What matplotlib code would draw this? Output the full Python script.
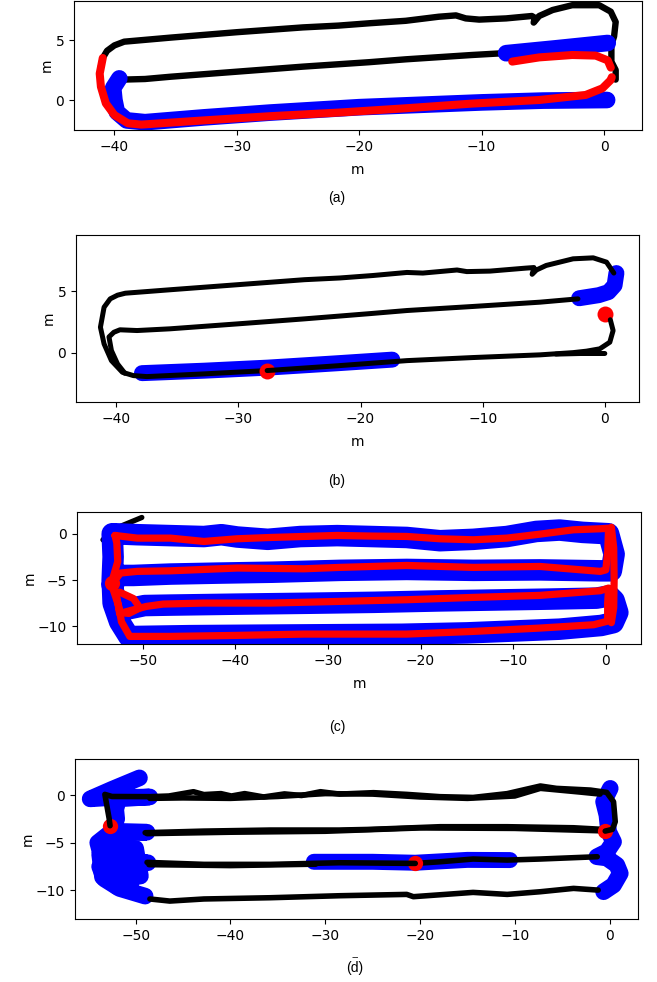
import matplotlib
matplotlib.use("Agg")
import matplotlib.pyplot as plt

# ---------------- panel (a) ----------------
a_black_top_x = [0.95, 0.95, 0.6, 0.6, 0.82, 0.95, 0.55, -0.4, -2.6, -4.2, -5.3, -5.75, -5.65, -5.9, -8.0,
                 -10.2, -11.3, -12.1, -13.5, -16.2, -19.1, -21.7, -24.6, -30.0, -35.4, -39.2, -40.0, -40.6,
                 -40.95, -41.1]
a_black_top_y = [1.7, 2.5, 3.2, 4.6, 5.3, 6.5, 7.36, 7.9, 7.9, 7.5, 7.0, 6.45, 6.85, 7.0, 6.8,
                 6.7, 6.8, 7.05, 6.94, 6.6, 6.4, 6.2, 6.05, 5.65, 5.2, 4.86, 4.55, 4.1,
                 3.5, 2.8]
a_black_mid_x = [-39.3, -37.5, -35.4, -30.0, -24.6, -19.2, -16.2, -10.8, -8.2, -4.0, 0.2]
a_black_mid_y = [1.7, 1.75, 1.94, 2.36, 2.78, 3.15, 3.39, 3.75, 3.9, 4.2, 4.5]
a_blue_low_x = [-39.6, -40.1, -40.0, -39.8, -39.0, -37.5, -32.7, -27.3, -20.0, -10.0, -5.0, 0.25]
a_blue_low_y = [1.8, 1.0, 0.0, -1.0, -1.7, -1.85, -1.45, -1.05, -0.6, -0.2, -0.05, 0.0]
a_blue_top_x = [-8.0, -4.0, 0.3]
a_blue_top_y = [3.9, 4.3, 4.75]
a_red_low_x = [-40.95, -41.2, -41.1, -40.7, -40.0, -38.9, -37.8, -32.7, -27.3, -21.7, -16.2, -10.8, -5.3,
               -1.5, -0.14, 0.55, 0.63]
a_red_low_y = [3.5, 2.2, 1.1, -0.28, -1.25, -1.94, -2.05, -1.7, -1.35, -1.05, -0.69, -0.3, 0.0,
               0.42, 0.97, 1.67, 1.9]
a_red_up_x = [0.55, 0.3, -0.68, -2.6, -5.3, -7.5]
a_red_up_y = [2.7, 3.3, 3.7, 3.75, 3.55, 3.2]

# ---------------- panel (b) ----------------
b_black_right_x = [0.45, 0.68, 0.41, -0.41, -1.5, -2.6, -5.3, -10.8, -16.2, -21.9, -27.65]
b_black_right_y = [2.7, 1.82, 0.87, 0.33, 0.14, 0.02, -0.16, -0.38, -0.63, -1.05, -1.44]
b_black_left_x = [-27.65, -32.8, -37.5, -38.6, -39.5, -40.4, -41.0, -41.3, -41.0, -40.5, -39.9, -39.26,
                  -35.6, -30.1, -24.6, -21.7, -19.0, -16.2, -14.9, -12.1, -11.3, -9.4, -6.5, -5.8,
                  -5.95, -5.6, -4.8, -2.6, -0.95, 0.14, 0.74]
b_black_left_y = [-1.44, -1.71, -1.93, -1.85, -1.58, -0.63, 0.73, 2.09, 3.72, 4.4, 4.7, 4.86,
                  5.14, 5.55, 5.96, 6.1, 6.3, 6.55, 6.5, 6.75, 6.62, 6.66, 6.9, 6.95,
                  6.4, 6.75, 7.12, 7.66, 7.74, 7.39, 6.5]
b_black_mid_x = [-39.3, -39.9, -40.4, -40.6, -40.2, -39.7, -38.3, -35.6, -30.1, -24.6, -21.7, -19.2, -16.2,
                 -10.8, -5.3, -2.2]
b_black_mid_y = [-1.66, -0.9, 0.19, 1.3, 1.68, 1.88, 1.82, 1.96, 2.36, 2.77, 3.0, 3.2, 3.45,
                 3.78, 4.13, 4.4]
b_black_tail_x = [0.0, -2.0, -4.0]
b_black_tail_y = [-0.05, -0.05, -0.1]
b_blue_low_x = [-37.9, -32.8, -27.6, -22.0, -17.4]
b_blue_low_y = [-1.65, -1.45, -1.2, -0.85, -0.55]
b_blue_right_x = [-2.1, -0.5, 0.3, 0.8, 0.95]
b_blue_right_y = [4.45, 4.7, 4.95, 5.5, 6.5]
b_dot_x = [-27.65, 0.0]
b_dot_y = [-1.44, 3.13]

# ---------------- panel (c) ----------------
c_black_x = [-50.1, -52.3, -53.3, -54.3, -53.2, -53.2, -53.9, -53.6, -52.5, -51.7, -48.0]
c_black_y = [1.76, 0.85, 0.2, -0.65, -1.5, -4.0, -6.8, -7.6, -9.5, -11.25, -11.1]
c_blue_x = [-53.0, -50.6, -47.0, -43.4, -41.5, -39.8, -36.5, -33.0, -29.0, -25.2, -21.5, -17.9, -14.3,
            -10.7, -7.5, -5.0, -2.5, 0.3,
            0.9, 0.6,
            -0.6, -7.1, -14.3, -21.5, -28.7, -36.0, -42.0, -47.0, -51.0, -52.6,
            -53.3, -53.0, -52.5,
            -49.8, -47.0, -40.0, -32.0, -25.0, -18.0, -12.0, -6.0, -1.0, 0.4,
            0.9, 1.3, 0.8,
            -0.5, -5.0, -10.0, -15.0, -22.0, -30.0, -38.0, -45.0, -51.5,
            -52.5, -53.2, -53.3, -53.2, -53.3]
c_blue_y = [0.0, -0.1, -0.2, -0.3, -0.1, -0.35, -0.6, -0.3, -0.2, -0.3, -0.4, -0.75, -0.6,
            -0.3, 0.25, 0.4, 0.15, 0.0,
            -2.2, -4.0,
            -4.0, -3.9, -3.95, -3.85, -3.95, -4.15, -4.25, -4.35, -4.5, -4.5,
            -5.5, -7.0, -8.3,
            -7.75, -7.7, -7.6, -7.5, -7.4, -7.25, -7.15, -7.05, -6.95, -6.7,
            -7.2, -8.5, -9.6,
            -9.9, -10.3, -10.5, -10.7, -10.85, -10.9, -10.95, -11.0, -11.1,
            -9.5, -7.5, -5.0, -2.5, 0.0]
c_red_x = [-53.0, -50.6, -47.0, -43.4, -39.8, -36.2, -32.6, -29.0, -25.2, -21.5, -17.9, -14.3, -10.7,
           -7.1, -3.5, -0.6, 0.3,
           0.2, 0.0,
           -0.6, -7.1, -14.3, -21.5, -28.7, -32.6, -39.8, -47.0, -50.6, -52.4,
           -53.3, -52.8, -52.5,
           -49.6, -47.8, -43.4, -36.2, -28.7, -21.5, -14.3, -7.1, -0.6, 0.3,
           0.2, 0.2,
           0.1, -1.3, -7.1, -14.3, -21.5, -28.7, -32.6, -39.8, -47.0, -51.4,
           -52.3, -52.6, -53.4, -52.7, -52.8, -53.0]
c_red_y = [-0.18, -0.47, -0.47, -0.83, -0.54, -0.4, -0.29, -0.18, -0.25, -0.29, -0.54, -0.65, -0.47,
           -0.04, 0.43, 0.54, 0.6,
           -2.0, -3.9,
           -4.06, -3.53, -3.63, -3.42, -3.63, -3.78, -3.7, -4.0, -4.06, -4.24,
           -5.4, -6.8, -8.6,
           -7.84, -7.59, -7.48, -7.48, -7.3, -7.12, -6.87, -6.65, -6.15, -5.86,
           -7.5, -9.3,
           -9.46, -9.82, -10.18, -10.54, -10.83, -10.83, -10.83, -10.97, -11.08, -11.08,
           -9.5, -7.8, -5.4, -3.0, -1.0, -0.18]
c_red_right_x = [0.6, 0.85, 0.9, 0.85, 0.6]
c_red_right_y = [0.7, -1.5, -5.0, -8.0, -9.6]
c_red_loop_x = [-52.5, -51.0, -50.3, -51.5, -52.5]
c_red_loop_y = [-6.3, -7.0, -8.0, -8.6, -8.5]
c_dot_x = [-53.3]
c_dot_y = [-5.3]

# ---------------- panel (d) ----------------
d_black_1_x = [-52.7, -52.8, -53.25, -52.5, -48.5, -46.5, -43.9, -42.8, -41.0, -39.9, -38.5, -36.5, -34.3,
               -32.5, -30.5, -28.5, -24.9, -21.4, -17.9, -14.4, -10.8, -7.3, -5.6, -2.0, -0.3, 0.42,
               0.6, 0.3, -0.46]
d_black_1_y = [-3.22, -2.45, 0.07, -0.15, -0.17, -0.1, 0.35, 0.05, 0.15, -0.1, 0.15, -0.2, 0.12,
               -0.05, 0.35, 0.1, 0.25, 0.07, -0.17, -0.25, 0.15, 0.95, 0.7, 0.52, 0.28, -0.7,
               -2.8, -3.6, -3.78]
d_black_1b_x = [-48.5, -45.0, -40.0, -35.0, -30.0, -25.0, -20.0, -15.0, -10.0, -7.3, -3.0, -1.0]
d_black_1b_y = [-0.35, -0.3, -0.35, -0.15, 0.15, 0.1, -0.2, -0.35, -0.1, 0.7, 0.3, 0.1]
d_black_2_x = [-0.7, -3.8, -10.8, -17.9, -25.2, -28.5, -35.8, -42.8, -49.0]
d_black_2_y = [-3.6, -3.43, -3.32, -3.32, -3.6, -3.67, -3.67, -3.78, -3.95]
d_black_2b_x = [-1.0, -10.0, -20.0, -30.0, -40.0, -48.8]
d_black_2b_y = [-3.75, -3.5, -3.45, -3.8, -3.9, -4.05]
d_black_3_x = [-48.8, -42.8, -35.8, -28.5, -20.5]
d_black_3_y = [-7.06, -7.27, -7.27, -7.1, -7.17]
d_black_3b_x = [-20.5, -17.9, -14.4, -10.8, -7.3, -1.3]
d_black_3b_y = [-7.17, -7.0, -6.71, -6.82, -6.71, -6.47]
d_black_3c_x = [-48.6, -40.0, -31.0]
d_black_3c_y = [-7.3, -7.4, -7.25]
d_black_4_x = [-48.5, -46.4, -42.8, -35.8, -28.5, -21.4, -20.7, -14.4, -10.8, -7.3, -3.8, -1.2]
d_black_4_y = [-10.9, -11.12, -10.9, -10.77, -10.56, -10.42, -10.66, -10.21, -10.42, -10.14, -9.79, -9.97]
d_blue_left_x = [-49.6, -52.5, -54.8, -53.2, -48.5, -51.8, -52.1, -52.0, -52.6, -48.8, -52.6, -54.0,
                 -53.6, -52.0, -48.7, -52.5, -53.8, -53.3, -51.7, -49.0]
d_blue_left_y = [1.8, 0.6, -0.4, -0.3, -0.2, -0.4, -1.5, -2.5, -3.8, -3.9, -3.9, -5.0,
                 -6.5, -7.1, -7.1, -7.3, -7.5, -8.8, -9.8, -10.6]
d_blue_fill_x = [-53.5, -50.0, -49.5, -53.5, -53.8, -50.0, -50.0, -53.0, -52.0, -50.5]
d_blue_fill_y = [-5.3, -5.6, -8.5, -8.6, -6.2, -6.3, -7.8, -7.8, -9.6, -9.3]
d_blue_right_x = [0.07, -0.63, -0.28, -0.1, 0.42, -0.28, -1.34, -0.3, 0.77, 1.13, 0.42, -0.63]
d_blue_right_y = [0.7, -0.7, -2.1, -3.85, -4.9, -5.94, -6.47, -6.6, -7.34, -8.22, -9.44, -10.14]
d_blue_mid_x = [-31.2, -25.0, -20.5, -15.0, -10.5]
d_blue_mid_y = [-7.0, -7.0, -7.1, -6.8, -6.82]
d_dot_x = [-52.7, -0.46, -20.5]
d_dot_y = [-3.22, -3.78, -7.17]

W, H = 657, 982
fig = plt.figure(figsize=(W / 100, H / 100), dpi=100)


def make_axes(left, top, right, bottom):
    # pixel box -> figure fraction
    return fig.add_axes([left / W, 1 - bottom / H, (right - left) / W, (bottom - top) / H])


def trail(ax, x, y, color, lw, z):
    ax.plot(x, y, color=color, lw=lw, solid_capstyle='round', solid_joinstyle='round', zorder=z)


# (a)
ax = make_axes(74, 1, 642, 130)
trail(ax, a_black_top_x, a_black_top_y, 'black', 4.6, 1)
trail(ax, a_black_mid_x, a_black_mid_y, 'black', 4.6, 1)
trail(ax, a_blue_low_x, a_blue_low_y, 'blue', 12, 2)
trail(ax, a_blue_top_x, a_blue_top_y, 'blue', 12, 2)
trail(ax, a_red_low_x, a_red_low_y, 'red', 5.8, 3)
trail(ax, a_red_up_x, a_red_up_y, 'red', 5.8, 3)
ax.set_xlim(-43.3, 3.1)
ax.set_ylim(-2.5, 8.25)
ax.set_yticks([0, 5])

# (b)
ax = make_axes(76, 235, 639, 402)
trail(ax, b_blue_low_x, b_blue_low_y, 'blue', 11.5, 1)
trail(ax, b_blue_right_x, b_blue_right_y, 'blue', 11.5, 1)
trail(ax, b_black_left_x, b_black_left_y, 'black', 3.6, 2)
trail(ax, b_black_mid_x, b_black_mid_y, 'black', 3.6, 2)
trail(ax, b_black_tail_x, b_black_tail_y, 'black', 3.6, 2)
ax.plot(b_dot_x, b_dot_y, 'o', color='red', ms=11.5, mec='none', zorder=3)
trail(ax, b_black_right_x, b_black_right_y, 'black', 3.6, 4)
ax.set_xlim(-43.3, 2.8)
ax.set_ylim(-4.0, 9.6)
ax.set_yticks([0, 5])

# (c)
ax = make_axes(77, 512, 641, 644)
trail(ax, c_black_x, c_black_y, 'black', 3.8, 1)
trail(ax, c_blue_x, c_blue_y, 'blue', 15.5, 2)
trail(ax, c_red_x, c_red_y, 'red', 5.2, 3)
trail(ax, c_red_right_x, c_red_right_y, 'red', 5.2, 3)
trail(ax, c_red_loop_x, c_red_loop_y, 'red', 5.2, 3)
ax.plot(c_dot_x, c_dot_y, 'o', color='red', ms=11, mec='none', zorder=4)
ax.set_xlim(-57.1, 3.8)
ax.set_ylim(-11.9, 2.35)
ax.set_yticks([0, -5, -10])

# (d)
ax = make_axes(75, 759, 638, 919)
trail(ax, d_blue_left_x, d_blue_left_y, 'blue', 12, 1)
trail(ax, d_blue_fill_x, d_blue_fill_y, 'blue', 12, 1)
trail(ax, d_blue_right_x, d_blue_right_y, 'blue', 12, 1)
trail(ax, d_blue_mid_x, d_blue_mid_y, 'blue', 11.5, 1)
trail(ax, d_black_1b_x, d_black_1b_y, 'black', 4, 2)
trail(ax, d_black_2_x, d_black_2_y, 'black', 4, 2)
trail(ax, d_black_2b_x, d_black_2b_y, 'black', 4, 2)
trail(ax, d_black_3b_x, d_black_3b_y, 'black', 4, 2)
trail(ax, d_black_3c_x, d_black_3c_y, 'black', 4, 2)
trail(ax, d_black_4_x, d_black_4_y, 'black', 4, 2)
ax.plot(d_dot_x, d_dot_y, 'o', color='red', ms=11, mec='none', zorder=3)
trail(ax, d_black_1_x, d_black_1_y, 'black', 4, 4)
trail(ax, d_black_3_x, d_black_3_y, 'black', 4, 4)
ax.set_xlim(-56.4, 3.0)
ax.set_ylim(-13.0, 3.78)
ax.set_yticks([0, -5, -10])

for i, a in enumerate(fig.axes):
    a.set_ylabel('m', labelpad=1)
    if i < 3:
        a.set_xlabel('m', labelpad=7)

# captions under each panel
cap = dict(ha='center', va='center', fontsize=10, family='Liberation Sans')
fig.text(337 / W, 1 - 198 / H, '(a)', **cap)
fig.text(337 / W, 1 - 481 / H, '(b)', **cap)
fig.text(337 / W, 1 - 727 / H, '(c)', **cap)
fig.text(355 / W, 1 - 968 / H, '(d)', **cap)
fig.text(355 / W, 1 - 957 / H, '--', ha='center', va='center', fontsize=8, family='Liberation Sans')

fig.savefig('out.png', dpi=100)
